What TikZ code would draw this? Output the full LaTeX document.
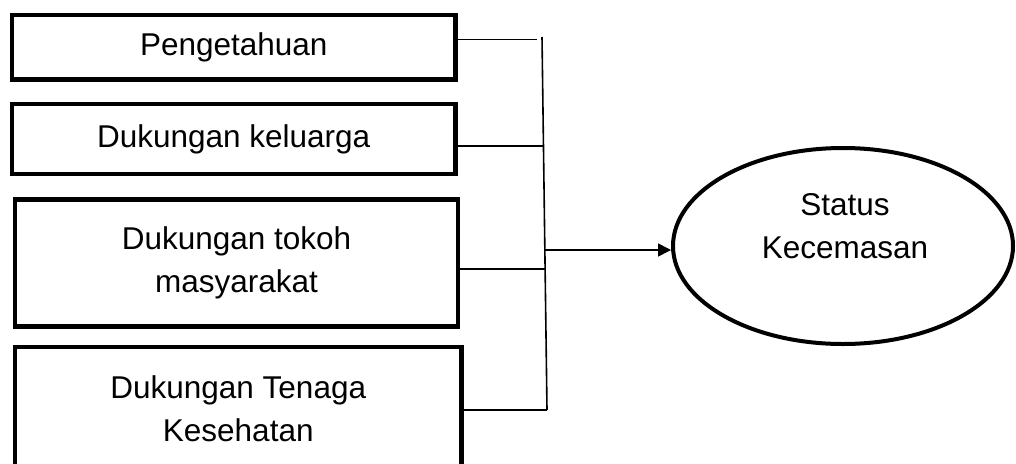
\documentclass[tikz,border=0pt]{standalone}
\usepackage{fontspec}
\setmainfont{Liberation Sans}
\usetikzlibrary{shapes.geometric,arrows.meta}

\begin{document}
\begin{tikzpicture}[x=1pt,y=-1pt,
  factor/.style={draw=black,line width=4.5pt,rectangle,inner sep=0pt,
    align=center,font=\fontsize{31.5}{43}\selectfont},
  outcome/.style={draw=black,line width=4pt,ellipse,inner sep=0pt,
    minimum width=340pt,minimum height=196pt},
  label/.style={align=center,font=\fontsize{31.5}{43}\selectfont},
  link/.style={draw=black,line width=1.6pt}]
  \useasboundingbox (0,0) rectangle (1016,463);
  \clip (0,0) rectangle (1016,463);

  % independent variables
  \node[factor,minimum width=443.5pt,minimum height=64.5pt] (b1) at (233.75,47.25) {Pengetahuan};
  \node[factor,minimum width=443.5pt,minimum height=70pt] (b2) at (233.75,139) {Dukungan keluarga};
  \node[factor,minimum width=443pt,minimum height=127pt] (b3) at (236.5,263) {Dukungan tokoh\\masyarakat};
  \node[factor,minimum width=446.5pt,minimum height=124pt] (b4) at (238.25,409) {Dukungan Tenaga\\Kesehatan};

  % dependent variable
  \node[outcome] (ell) at (843,246) {};
  \node[label] (ellt) at (845,226) {Status\\Kecemasan};

  % collecting bar
  \coordinate (vt) at (542,37);
  \coordinate (vb) at (547,410);
  \coordinate (j1) at (537,39.5);
  \coordinate (j2) at (543.5,146);
  \coordinate (j3) at (545.1,269);
  \coordinate (j4) at (547,410);
  \coordinate (ja) at (544.9,250);

  \draw[link] (vt) -- (vb);
  \draw[link] (b1.east |- j1) -- (j1);
  \draw[link] (b2.east |- j2) -- (j2);
  \draw[link] (b3.east |- j3) -- (j3);
  \draw[link] (b4.east |- j4) -- (j4);
  \draw[link,-{Triangle[length=13pt,width=13pt]}] (ja) -- (ja -| ell.west);
\end{tikzpicture}
\end{document}
